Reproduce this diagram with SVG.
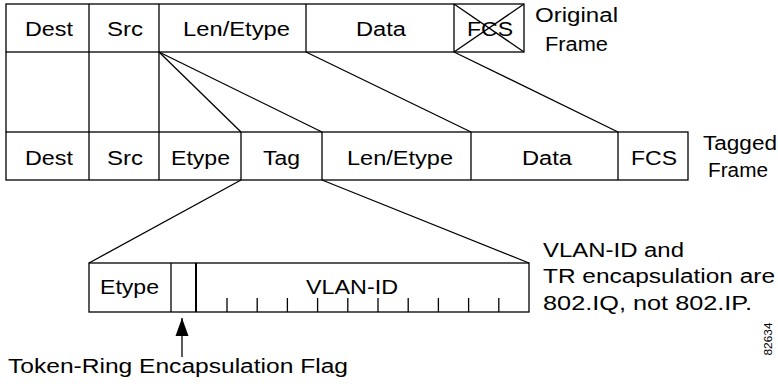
<svg xmlns="http://www.w3.org/2000/svg" width="778" height="387" viewBox="0 0 778 387">
  <style>
    .box { fill: #fff; stroke: #000; stroke-width: 1.3; }
    .ln { stroke: #000; stroke-width: 1.3; fill: none; }
    .thick { stroke: #000; stroke-width: 2; }
    .t { font-family: "Liberation Sans", Arial, sans-serif; font-size: 20px; fill: #000; }
    .id { font-family: "Liberation Sans", Arial, sans-serif; font-size: 11px; fill: #000; }
  </style>
  <defs>
    <marker id="head" markerUnits="userSpaceOnUse" markerWidth="20" markerHeight="14" viewBox="0 0 20 14" refX="19" refY="7" orient="auto">
      <path d="M19 7 L1 0.5 L1 13.5 Z" fill="#000"/>
    </marker>
  </defs>
  <rect width="778" height="387" fill="#fff"/>

  <!-- Original (untagged) frame -->
  <g id="original-frame">
    <rect class="box" x="6" y="4" width="518" height="48"/>
    <line class="ln" x1="89" y1="4" x2="89" y2="52"/>
    <line class="ln" x1="159" y1="4" x2="159" y2="52"/>
    <line class="ln" x1="306" y1="4" x2="306" y2="52"/>
    <line class="ln" x1="454" y1="4" x2="454" y2="52"/>
    <text class="t" x="25" y="36" textLength="48" lengthAdjust="spacingAndGlyphs">Dest</text>
    <text class="t" x="107" y="36" textLength="36" lengthAdjust="spacingAndGlyphs">Src</text>
    <text class="t" x="183" y="36" textLength="107" lengthAdjust="spacingAndGlyphs">Len/Etype</text>
    <text class="t" x="356" y="36" textLength="50" lengthAdjust="spacingAndGlyphs">Data</text>
    <text class="t" x="467" y="36" textLength="46" lengthAdjust="spacingAndGlyphs">FCS</text>
    <!-- FCS is crossed out -->
    <line class="ln" x1="454" y1="4" x2="524" y2="52"/>
    <line class="ln" x1="454" y1="52" x2="524" y2="4"/>
  </g>
  <g id="original-label">
    <text class="t" x="535" y="22" textLength="83" lengthAdjust="spacingAndGlyphs">Original</text>
    <text class="t" x="545" y="51" textLength="63" lengthAdjust="spacingAndGlyphs">Frame</text>
  </g>

  <!-- Tagged frame -->
  <g id="tagged-frame">
    <rect class="box" x="6" y="132" width="682" height="48"/>
    <line class="ln" x1="89" y1="132" x2="89" y2="180"/>
    <line class="ln" x1="159" y1="132" x2="159" y2="180"/>
    <line class="ln" x1="241" y1="132" x2="241" y2="180"/>
    <line class="ln" x1="322" y1="132" x2="322" y2="180"/>
    <line class="ln" x1="471" y1="132" x2="471" y2="180"/>
    <line class="ln" x1="618" y1="132" x2="618" y2="180"/>
    <text class="t" x="25" y="165" textLength="48" lengthAdjust="spacingAndGlyphs">Dest</text>
    <text class="t" x="107" y="165" textLength="36" lengthAdjust="spacingAndGlyphs">Src</text>
    <text class="t" x="171" y="165" textLength="59" lengthAdjust="spacingAndGlyphs">Etype</text>
    <text class="t" x="263" y="165" textLength="37" lengthAdjust="spacingAndGlyphs">Tag</text>
    <text class="t" x="347" y="165" textLength="106" lengthAdjust="spacingAndGlyphs">Len/Etype</text>
    <text class="t" x="522" y="165" textLength="50" lengthAdjust="spacingAndGlyphs">Data</text>
    <text class="t" x="631" y="165" textLength="46" lengthAdjust="spacingAndGlyphs">FCS</text>
  </g>
  <g id="tagged-label">
    <text class="t" x="703" y="150" textLength="74" lengthAdjust="spacingAndGlyphs">Tagged</text>
    <text class="t" x="708" y="177" textLength="60" lengthAdjust="spacingAndGlyphs">Frame</text>
  </g>

  <!-- Tag field detail -->
  <g id="tag-detail">
    <rect class="box" x="89" y="263" width="440" height="49"/>
    <line class="ln" x1="171" y1="263" x2="171" y2="312"/>
    <line class="thick" x1="196" y1="263" x2="196" y2="312"/>
    <path class="ln" d="M227 298V312M257.2 298V312M287.4 298V312M317.6 298V312M347.8 298V312M378 298V312M408.2 298V312M438.4 298V312M468.6 298V312M498.8 298V312"/>
    <text class="t" x="100" y="294" textLength="59" lengthAdjust="spacingAndGlyphs">Etype</text>
    <text class="t" x="306" y="294" textLength="92" lengthAdjust="spacingAndGlyphs">VLAN-ID</text>
  </g>

  <g id="flag-label">
    <line class="ln" x1="182" y1="357" x2="182" y2="318" marker-end="url(#head)"/>
    <text class="t" x="8" y="373" textLength="340" lengthAdjust="spacingAndGlyphs">Token-Ring Encapsulation Flag</text>
  </g>

  <g id="note">
    <text class="t" x="543" y="257" textLength="141" lengthAdjust="spacingAndGlyphs">VLAN-ID and</text>
    <text class="t" x="543" y="283" textLength="232" lengthAdjust="spacingAndGlyphs">TR encapsulation are</text>
    <text class="t" x="543" y="310" textLength="209" lengthAdjust="spacingAndGlyphs">802.IQ, not 802.IP.</text>
  </g>

  <g id="figure-number">
    <text class="id" transform="translate(772 339) rotate(-90)" text-anchor="middle" textLength="33" lengthAdjust="spacingAndGlyphs">82634</text>
  </g>

  <!-- Mapping lines between the frames -->
  <g id="connectors">
    <line class="ln" x1="6" y1="52" x2="6" y2="132"/>
    <line class="ln" x1="89" y1="52" x2="89" y2="132"/>
    <line class="ln" x1="159" y1="52" x2="159" y2="132"/>
    <line class="ln" x1="159" y1="52" x2="241" y2="132"/>
    <line class="ln" x1="159" y1="52" x2="322" y2="132"/>
    <line class="ln" x1="306" y1="52" x2="471" y2="132"/>
    <line class="ln" x1="454" y1="52" x2="618" y2="132"/>
    <line class="ln" x1="241" y1="180" x2="89" y2="263"/>
    <line class="ln" x1="322" y1="180" x2="529" y2="263"/>
  </g>
</svg>
